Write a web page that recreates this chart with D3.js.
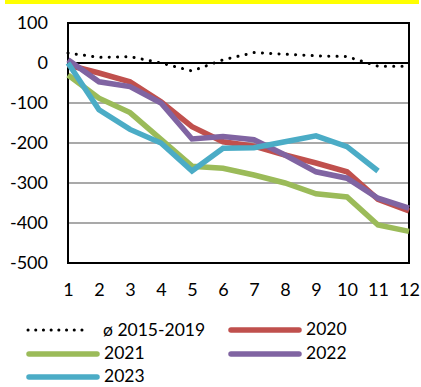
<!DOCTYPE html>
<html>
<head>
<meta charset="utf-8">
<script src="https://cdn.jsdelivr.net/npm/d3@7"></script>
<style>
  html, body { margin: 0; padding: 0; background: #fff; }
  svg { display: block; font-family: Lato, "DejaVu Sans", sans-serif; }
</style>
</head>
<body>
<svg id="chart" width="421" height="387"></svg>
<script>
// Months on the x axis
const months = [1, 2, 3, 4, 5, 6, 7, 8, 9, 10, 11, 12];
const yTicks = [100, 0, -100, -200, -300, -400, -500];

// Cumulative values per year
const avg2015_2019 = [25, 14, 16, 0, -20, 8, 26, 22, 18, 16, -8, -8];
const y2020 = [-5, -25, -47, -97, -159, -197, -208, -230, -250, -272, -341, -370];
const y2021 = [-30, -88, -124, -191, -258, -263, -280, -300, -327, -335, -405, -421];
const y2022 = [8, -47, -59, -100, -190, -184, -192, -230, -272, -288, -338, -363];
const y2023 = [0, -117, -166, -200, -270, -213, -212, -197, -182, -209, -270];

const seriesNames = ["ø 2015-2019", "2020", "2021", "2022", "2023"];
const seriesColors = ["#000000", "#C0504D", "#9BBB59", "#8064A2", "#4BACC6"];

const series = [avg2015_2019, y2020, y2021, y2022, y2023].map((vals, i) => ({
  name: seriesNames[i],
  color: seriesColors[i],
  dotted: i === 0,
  values: vals.map((v, j) => ({ m: months[j], v }))
}));

const svg = d3.select("#chart");

// Yellow banner across the top
svg.append("rect").attr("x", 5).attr("y", 0).attr("width", 414).attr("height", 4).attr("fill", "#FFFF00");

const x = d3.scalePoint().domain(months).range([68, 409]).padding(0);
const y = d3.scaleLinear().domain([-500, 100]).range([263, 23]);

// Horizontal gridlines
svg.append("g").selectAll("line")
  .data(yTicks.filter(t => t < 0 && t > -500))
  .join("line")
  .attr("x1", x(1)).attr("x2", x(12))
  .attr("y1", d => y(d)).attr("y2", d => y(d))
  .attr("stroke", "#8c8c8c").attr("stroke-width", 1.5);

// Zero line
svg.append("line")
  .attr("x1", x(1)).attr("x2", x(12))
  .attr("y1", y(0)).attr("y2", y(0))
  .attr("stroke", "#000").attr("stroke-width", 2);

// Plot frame
svg.append("rect")
  .attr("x", x(1)).attr("y", y(100))
  .attr("width", x(12) - x(1)).attr("height", y(-500) - y(100))
  .attr("fill", "none").attr("stroke", "#000").attr("stroke-width", 2);

// Y axis labels (plain hyphen for negatives)
const yAxis = d3.axisLeft(y).tickValues(yTicks).tickSize(0).tickPadding(20).tickFormat(d => String(d));
const gy = svg.append("g").attr("transform", `translate(${x(1)},0)`).call(yAxis);
gy.select(".domain").remove();
gy.selectAll("text").attr("font-size", 18).attr("fill", "#000").attr("font-family", "Lato, sans-serif");

// X axis labels
const xAxis = d3.axisBottom(x).tickSize(0).tickPadding(20);
const gx = svg.append("g").attr("transform", `translate(0,${y(-500)})`).call(xAxis);
gx.select(".domain").remove();
gx.selectAll("text").attr("font-size", 18).attr("fill", "#000").attr("font-family", "Lato, sans-serif");

const line = d3.line().x(d => x(d.m)).y(d => y(d.v));

// Colored year lines first, dotted average on top
const order = [1, 2, 3, 4, 0];
order.forEach(i => {
  const s = series[i];
  const p = svg.append("path")
    .datum(s.values)
    .attr("d", line)
    .attr("fill", "none")
    .attr("stroke", s.color);
  if (s.dotted) {
    p.attr("stroke-width", 3).attr("stroke-linecap", "round").attr("stroke-dasharray", "0.1 8.2");
  } else {
    p.attr("stroke-width", 5.5).attr("stroke-linejoin", "miter");
  }
});

// Legend
const legendPos = [
  { x: 27, y: 330 }, { x: 229, y: 330 },
  { x: 27, y: 354 }, { x: 229, y: 354 },
  { x: 27, y: 377 }
];
const lg = svg.append("g");
series.forEach((s, i) => {
  const p = legendPos[i];
  const item = lg.append("g").attr("transform", `translate(${p.x},${p.y})`);
  if (s.dotted) {
    item.append("line").attr("x1", 1).attr("x2", 62).attr("y1", 0).attr("y2", 0)
      .attr("stroke", "#000").attr("stroke-width", 3).attr("stroke-linecap", "round")
      .attr("stroke-dasharray", "0.1 7.6");
    item.append("text").attr("x", 76).attr("y", 0).attr("dy", "0.33em")
      .attr("font-size", 17.5).text(s.name);
  } else {
    item.append("line").attr("x1", 2).attr("x2", 70).attr("y1", 0).attr("y2", 0)
      .attr("stroke", s.color).attr("stroke-width", 5.5).attr("stroke-linecap", "round");
    item.append("text").attr("x", 77).attr("y", 0).attr("dy", "0.3em")
      .attr("font-size", 17.5).text(s.name);
  }
});
</script>
</body>
</html>
